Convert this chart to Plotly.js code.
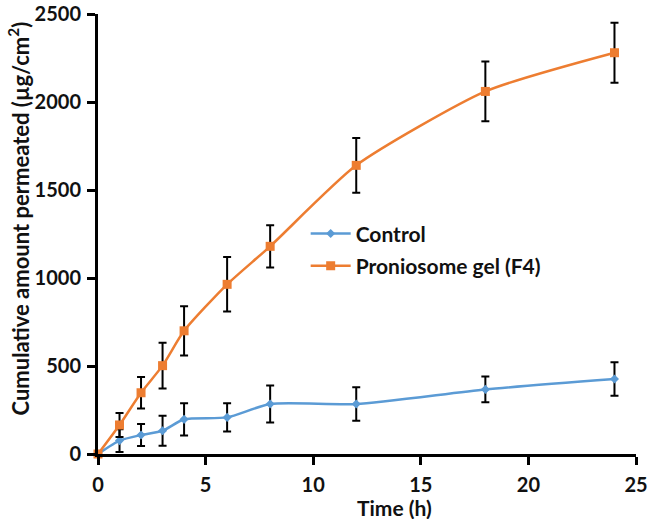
<!DOCTYPE html>
<html><head><meta charset="utf-8">
<script src="https://cdn.plot.ly/plotly-3.0.1.min.js"></script>
<style>body{margin:0;background:#fff}#chart{width:650px;height:519px}</style>
</head><body><div id="chart"></div>
<script>
const time = [0, 1, 2, 3, 4, 6, 8, 12, 18, 24];
const controlValues = [0, 76, 108, 132, 197, 208, 284, 284, 367, 426];
const controlErr = [0, 65, 62, 85, 92, 80, 105, 95, 73, 95];
const gelValues = [0, 165, 348, 502, 700, 964, 1180, 1640, 2060, 2280];
const gelErr = [0, 68, 90, 130, 140, 155, 120, 155, 170, 170];
const seriesNames = ["Control", "Proniosome gel (F4)"];
const xTitle = "Time (h)";
const yTitle = "Cumulative amount permeated (µg/cm<sup>2</sup>)";

const font = "Lato, Open Sans, sans-serif";
const errStyle = (arr) => ({type: "data", array: arr, visible: true, color: "#000", thickness: 2, width: 4});

const traces = [
  {x: time, y: controlValues, name: seriesNames[0], legendgroup: "a", type: "scatter", mode: "lines+markers",
   line: {color: "#5B9BD5", width: 2.5, shape: "spline", smoothing: 0.6},
   marker: {symbol: "diamond", size: 7, color: "#5B9BD5"},
   error_y: errStyle(controlErr), cliponaxis: false},
  {x: time, y: gelValues, name: seriesNames[1], legendgroup: "b", type: "scatter", mode: "lines+markers",
   line: {color: "#ED7D31", width: 2.5, shape: "spline", smoothing: 0.6},
   marker: {symbol: "square", size: 9, color: "#ED7D31"},
   error_y: errStyle(gelErr), cliponaxis: false}
];

const layout = {
  width: 650, height: 519,
  margin: {l: 98, r: 14, t: 14, b: 65},
  paper_bgcolor: "#fff", plot_bgcolor: "#fff",
  showlegend: true,
  legend: {x: 0.386, y: 0.547, xanchor: "left", yanchor: "top", bgcolor: "rgba(0,0,0,0)",
    font: {family: font, size: 21, color: "#111", weight: "bold"}, tracegroupgap: 2, itemwidth: 40},
  xaxis: {range: [0, 25], tickvals: [0, 5, 10, 15, 20, 25], showgrid: false, zeroline: false,
    showline: true, linecolor: "#000", linewidth: 3, ticks: "outside", ticklen: 8, tickwidth: 3, tickcolor: "#000",
    ticklabelstandoff: 3,
    tickfont: {family: font, size: 20, color: "#111", weight: "bold"}},
  yaxis: {range: [0, 2500], tickvals: [0, 500, 1000, 1500, 2000, 2500], showgrid: false, zeroline: false,
    showline: true, linecolor: "#000", linewidth: 3, ticks: "outside", ticklen: 8, tickwidth: 3, tickcolor: "#000",
    ticklabelstandoff: 2,
    tickfont: {family: font, size: 20, color: "#111", weight: "bold"}},
  annotations: [
    {text: xTitle, xref: "paper", yref: "paper", x: 0.552, y: -0.122, xanchor: "center", yanchor: "middle",
     showarrow: false, font: {family: font, size: 21, color: "#111", weight: "bold"}},
    {text: yTitle, xref: "paper", yref: "paper", x: -0.147, y: 0.535, xanchor: "center", yanchor: "middle",
     textangle: -90, showarrow: false, font: {family: font, size: 22, color: "#111", weight: "bold"}}
  ]
};

Plotly.newPlot("chart", traces, layout, {displayModeBar: false, staticPlot: true});
</script></body></html>
